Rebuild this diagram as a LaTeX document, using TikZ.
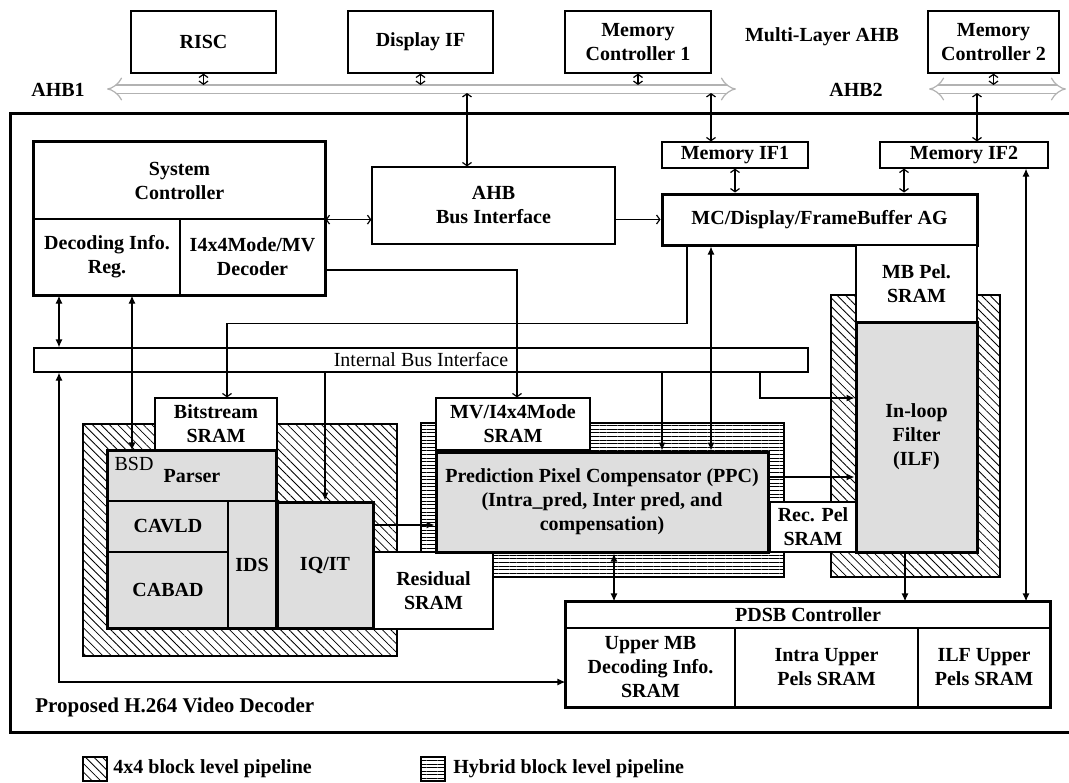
\documentclass[tikz,border=0pt]{standalone}
\usepackage{fontspec}
\setmainfont{Liberation Serif}
\usetikzlibrary{arrows.meta,patterns.meta}

\begin{document}
\begin{tikzpicture}[x=0.5pt, y=-0.5pt,
  every node/.style={font=\bfseries, align=center, inner sep=0pt},
  blk/.style={draw, line width=.6pt, fill=white},
  gry/.style={draw, line width=.6pt, fill=black!13},
  thk/.style={line width=1.5pt},
  pat4/.style={draw, line width=.6pt, pattern={Lines[angle=-45,distance=3pt,line width=.4pt]}},
  pathyb/.style={draw, line width=.6pt, pattern={Lines[angle=0,distance=1.8pt,line width=.4pt]}},
  bus/.style={draw=black!30, double=white, double distance=3.5pt, line width=.6pt, {Implies}-{Implies}},
  lnk/.style={line width=.6pt, >={Straight Barb[length=1.6pt,width=4.5pt]}},
  flw/.style={line width=.6pt, >={Latex[length=4pt,width=3.5pt]}}]
\useasboundingbox (0,0) rectangle (1069,782);

% multi-layer AHB
\node[blk, minimum width=72.5pt, minimum height=31pt] (risc) at (203.5,42) {RISC};
\node[blk, minimum width=72.5pt, minimum height=31pt] (dispif) at (420.5,42) {Display IF};
\node[blk, minimum width=73pt, minimum height=31pt] (mc1) at (638,42) {Memory\\Controller 1};
\node[blk, minimum width=65.5pt, minimum height=31pt] (mc2) at (993.5,42) {Memory\\Controller 2};
\node (mlahb) at (822,37) {Multi-Layer AHB};
\node (ahb1) at (58,90) {AHB1};
\node (ahb2) at (856,90) {AHB2};
\coordinate (b1w) at (107,89);
\coordinate (b1e) at (736,89);
\coordinate (b2w) at (929,89);
\coordinate (b2e) at (1066,89);
\coordinate (btop) at (0,85);
\coordinate (bbot) at (0,93);
\draw[bus] (b1w) -- (b1e);
\draw[bus] (b2w) -- (b2e);

% decoder frame and pipeline regions
\draw[thk] (10,113) rectangle (1075,732);
\draw[pat4] (83,424) rectangle (397,656);
\draw[pathyb] (421,423) rectangle (784,577);
\draw[pat4] (831,295) rectangle (1000,577);

\node[blk, minimum width=145.5pt, minimum height=38.5pt] (systop) at (179.5,180.5) {System\\Controller};
\node[blk, minimum width=73pt, minimum height=38pt] (sysinfo) at (107,257) {Decoding Info.\\Reg.};
\node[blk, minimum width=72.5pt, minimum height=38pt] (sysdec) at (252.5,257) {I4x4Mode/MV\\Decoder};
\draw[thk] (systop.north west) rectangle (sysdec.south east);

\node[blk, minimum width=121.5pt, minimum height=38.5pt] (ahbbi) at (493.5,205.5) {AHB\\Bus Interface};
\node[blk, minimum width=73pt, minimum height=13pt] (memif1) at (735,155) {Memory IF1};
\node[blk, minimum width=84pt, minimum height=13pt] (memif2) at (964,155) {Memory IF2};
\node[blk, thk, minimum width=157.5pt, minimum height=25.5pt] (mcag) at (819.5,219.5) {MC/Display/FrameBuffer AG};
\node[blk, minimum width=60.5pt, minimum height=38.5pt] (mbpel) at (916.5,283.5) {MB Pel.\\SRAM};
\node[gry, thk, minimum width=60.5pt, minimum height=115pt] (ilf) at (916.5,437) {In-loop\\Filter\\(ILF)};

\node[draw, line width=.6pt, font=\normalfont, minimum width=387pt, minimum height=12pt] (intbus) at (421,360) {Internal Bus Interface};

\node[blk, minimum width=61pt, minimum height=26pt] (bitsram) at (216,424) {Bitstream\\SRAM};
\node[gry, minimum width=84pt, minimum height=25pt] (parser) at (192,476) {Parser};
\node[gry, minimum width=60pt, minimum height=25.5pt] (cavld) at (168,526.5) {CAVLD};
\node[gry, minimum width=60pt, minimum height=38pt] (cabad) at (168,590) {CABAD};
\node[gry, minimum width=24pt, minimum height=63.5pt] (ids) at (252,564.5) {IDS};
\node[font=\normalfont] (bsd) at (134,464) {BSD};
\draw[thk] (parser.north west) rectangle (ids.south east);
\node[gry, thk, minimum width=48pt, minimum height=63pt] (iqit) at (325,565) {IQ/IT};
\node[blk, minimum width=59.5pt, minimum height=38.5pt] (residual) at (433.5,590.5) {Residual\\SRAM};

\node[blk, minimum width=77pt, minimum height=26pt] (mvsram) at (513,424) {MV/I4x4Mode\\SRAM};
\node[gry, thk, minimum width=166pt, minimum height=50pt] (ppc) at (602,502) {Prediction Pixel Compensator (PPC)\\(Intra\_pred, Inter pred, and\\compensation)};
\node[blk, minimum width=43pt, minimum height=25pt] (recpel) at (813,527) {Rec. Pel\\SRAM};

\node[blk, minimum width=242pt, minimum height=13pt] (pdsbtitle) at (808,615) {PDSB Controller};
\node[blk, minimum width=84.5pt, minimum height=39.5pt] (pdsbup) at (650.5,667.5) {Upper MB\\Decoding Info.\\SRAM};
\node[blk, minimum width=91.5pt, minimum height=39.5pt] (pdsbintra) at (826.5,667.5) {Intra Upper\\Pels SRAM};
\node[blk, minimum width=66pt, minimum height=39.5pt] (pdsbilf) at (984,667.5) {ILF Upper\\Pels SRAM};
\draw[thk] (pdsbtitle.north west) rectangle (pdsbilf.south east);

\node[anchor=west, font=\bfseries\fontsize{10.5}{12}\selectfont] (title) at (35,707) {Proposed H.264 Video Decoder};

% AHB links
\draw[lnk,<->] (risc) -- (risc |- btop);
\draw[lnk,<->] (dispif) -- (dispif |- btop);
\draw[lnk,<->] (mc1) -- (mc1 |- btop);
\draw[lnk,<->] (mc2) -- (mc2 |- btop);
\draw[lnk,<->] ([xshift=-13.25pt]ahbbi.north |- bbot) -- ([xshift=-13.25pt]ahbbi.north);
\draw[lnk,<->] ([xshift=-12pt]memif1.north |- bbot) -- ([xshift=-12pt]memif1.north);
\draw[lnk,<->] ([xshift=6.5pt]memif2.north |- bbot) -- ([xshift=6.5pt]memif2.north);
\draw[lnk,<->] (memif1) -- (memif1 |- mcag.north);
\draw[lnk,<->] ([xshift=-30pt]memif2.south) -- ([xshift=-30pt]memif2.south |- mcag.north);
\draw[lnk,<->] (systop.south east) -- (systop.south east -| ahbbi.west);
\draw[lnk,->] (mcag.west -| ahbbi.east) -- (mcag.west);
\draw[lnk,->] ([yshift=-6.5pt]sysdec.east) -| ([xshift=2pt]mvsram.north);
\draw[lnk,->] ([xshift=-66.25pt]mcag.south) -- ++(0,77) -| ([xshift=5.5pt]bitsram.north);

% internal links
\draw[flw,<->] ([xshift=-24pt]sysinfo.south) -- ([xshift=-24pt]sysinfo.south |- intbus.north);
\draw[flw,<->] ([xshift=12.5pt]sysinfo.south) -- ([xshift=12.5pt]sysinfo.south |- parser.north);
\draw[flw,->] (iqit.north |- intbus.south) -- (iqit.north);
\draw[flw,<->] ([xshift=-24pt]sysinfo.south |- intbus.south) |- ([yshift=-7.25pt]pdsbup.west);
\draw[flw,->] ([xshift=30pt]ppc.north |- intbus.south) -- ([xshift=30pt]ppc.north);
\draw[flw,<->] ([xshift=54.5pt]ppc.north) -- ([xshift=54.5pt]ppc.north |- mcag.south);
\draw[flw,->] ([xshift=169.5pt]intbus.south) |- ([yshift=19.5pt]ilf.west);
\draw[flw,->] ([yshift=20pt]iqit.east) -- ([yshift=20pt]iqit.east -| ppc.west);
\draw[flw,->] ([yshift=12.5pt]ppc.east) -- ([yshift=12.5pt]ppc.east -| ilf.west);
\draw[flw,<->] ([xshift=6pt]ppc.south) -- ([xshift=6pt]ppc.south |- pdsbtitle.north);
\draw[flw,->] ([xshift=-5.75pt]ilf.south) -- ([xshift=-5.75pt]ilf.south |- pdsbtitle.north);
\draw[flw,<->] ([xshift=31pt]memif2.south) -- ([xshift=31pt]memif2.south |- pdsbtitle.north);

% legend
\draw[pat4] (83,757) rectangle (107,781);
\node[anchor=west] (leg4) at (113,769) {4x4 block level pipeline};
\draw[pathyb] (421,757) rectangle (445,781);
\node[anchor=west] (leghyb) at (453,769) {Hybrid block level pipeline};
\end{tikzpicture}
\end{document}
